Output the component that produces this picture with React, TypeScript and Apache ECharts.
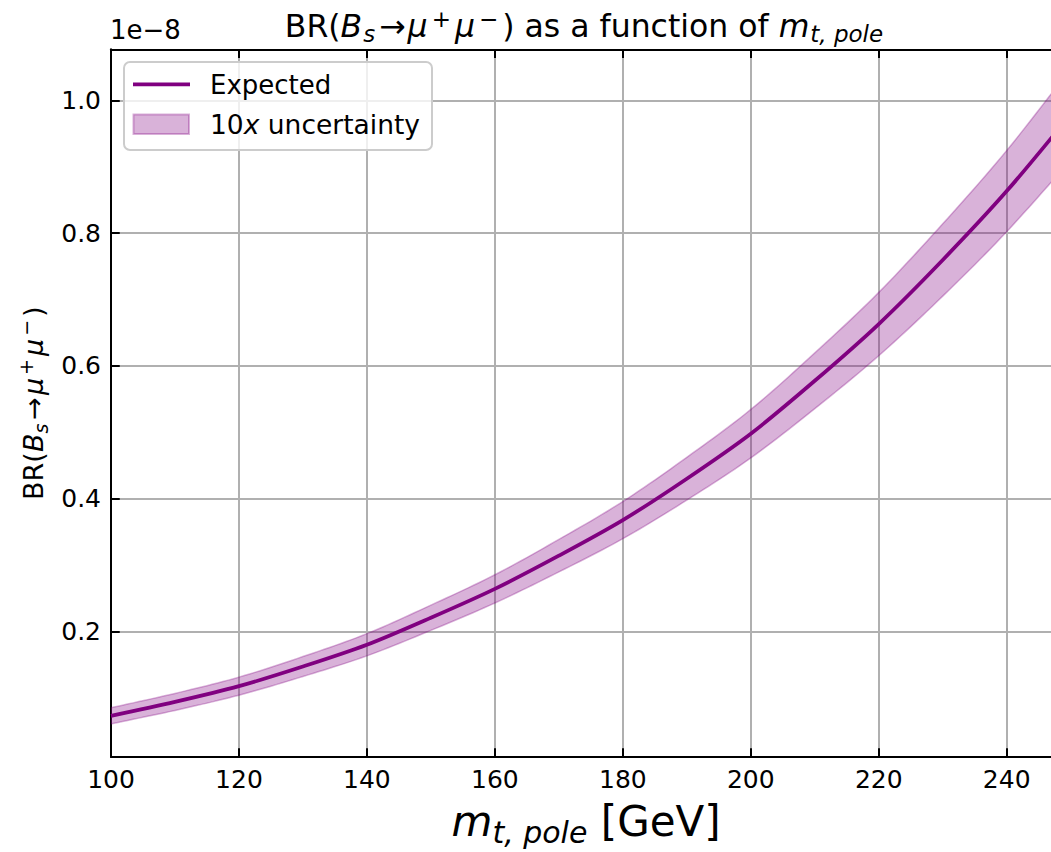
import React, { useEffect, useRef } from "react";
import * as echarts from "echarts";

// ---- data (BR in units of 1e-8) ----
const massGeV = [100, 110, 120, 130, 140, 150, 160, 170, 180, 190, 200, 210, 220, 230, 240, 250];
const brExpected = [0.0727, 0.0937, 0.1174, 0.147, 0.1798, 0.2205, 0.264, 0.314, 0.3676, 0.43, 0.4978, 0.5775, 0.663, 0.7595, 0.8633, 0.979];
const brUpper = [0.0849, 0.1065, 0.131, 0.162, 0.1965, 0.2395, 0.2853, 0.3385, 0.3956, 0.4622, 0.5343, 0.6195, 0.7107, 0.814, 0.9245, 1.048];
const brLower = [0.0605, 0.0809, 0.1038, 0.132, 0.1631, 0.2015, 0.2427, 0.2895, 0.3396, 0.3978, 0.4613, 0.5355, 0.6153, 0.705, 0.8021, 0.91];

const X_MIN = 100;
const X_MAX = 248.5;
const X_STEP = 20;
const Y_MIN = 0.0107;
const Y_MAX = 1.0769;
const Y_STEP = 0.2;

const FONT = "DejaVu Sans";
const PURPLE = "#800080";
const CHART_W = 1100;
const CHART_H = 852;
const PLOT_LEFT = 111;
const PLOT_RIGHT = 111 + (X_MAX - X_MIN) * 6.398;

// Catmull-Rom sampling in pixel space (for drawing a smooth band outline)
function smoothPts(pts: number[][], steps: number): number[][] {
  const out: number[][] = [];
  const n = pts.length;
  for (let i = 0; i < n - 1; i++) {
    const p0 = pts[Math.max(0, i - 1)];
    const p1 = pts[i];
    const p2 = pts[i + 1];
    const p3 = pts[Math.min(n - 1, i + 2)];
    for (let s = 0; s < steps; s++) {
      const t = s / steps;
      const t2 = t * t;
      const t3 = t2 * t;
      const f = (a: number, b: number, c: number, d: number) =>
        0.5 * (2 * b + (-a + c) * t + (2 * a - 5 * b + 4 * c - d) * t2 + (-a + 3 * b - 3 * c + d) * t3);
      out.push([f(p0[0], p1[0], p2[0], p3[0]), f(p0[1], p1[1], p2[1], p3[1])]);
    }
  }
  out.push(pts[n - 1]);
  return out;
}

export default function App() {
  const ref = useRef<HTMLDivElement>(null);

  useEffect(() => {
    if (!ref.current) return;
    const chart = echarts.init(ref.current, undefined, { renderer: "svg" });

    const axisLine = { show: true, onZero: false, lineStyle: { color: "#000", width: 2 } };
    const axisTick = { show: true, inside: true, length: 8.75, lineStyle: { color: "#000", width: 2 } };
    const splitLine = { show: true, lineStyle: { color: "#b0b0b0", width: 2 } };

    const bandRender = (params: any, api: any) => {
      if (params.dataIndexInside !== 0) return null;
      const len = params.dataInsideLength;
      const up: number[][] = [];
      const lo: number[][] = [];
      for (let j = 0; j < len; j++) {
        const x = api.value(0, j);
        up.push(api.coord([x, api.value(2, j)]));
        lo.push(api.coord([x, api.value(1, j)]));
      }
      const upS = smoothPts(up, 12);
      const loS = smoothPts(lo, 12).reverse();
      return {
        type: "polygon",
        shape: { points: upS.concat(loS) },
        style: {
          fill: "rgba(128,0,128,0.3)",
          stroke: "rgba(128,0,128,0.3)",
          lineWidth: 1.5,
        },
      };
    };

    const option: any = {
      animation: false,
      backgroundColor: "#fff",
      grid: {
        left: PLOT_LEFT,
        top: 49.3,
        right: CHART_W - PLOT_RIGHT,
        bottom: CHART_H - 759.3,
        containLabel: false,
      },
      xAxis: [
        {
          type: "value",
          position: "bottom",
          min: X_MIN,
          max: X_MAX,
          interval: X_STEP,
          axisLine,
          axisTick,
          splitLine,
          axisLabel: {
            show: true,
            margin: 10,
            fontSize: 25,
            color: "#000",
            fontFamily: FONT,
            showMaxLabel: false,
            showMinLabel: true,
          },
          name: "{m|m}{s|t, pole}{n| [GeV]}",
          nameLocation: "middle",
          nameGap: 38,
          nameTextStyle: {
            color: "#000",
            fontFamily: FONT,
            fontSize: 42,
            rich: {
              m: { fontSize: 42, fontStyle: "italic", fontFamily: FONT, color: "#000", lineHeight: 52 },
              s: { fontSize: 30, fontStyle: "italic", fontFamily: FONT, color: "#000", verticalAlign: "bottom" },
              n: { fontSize: 42, fontFamily: FONT, color: "#000", lineHeight: 52 },
            },
          },
        },
        {
          type: "value",
          position: "top",
          min: X_MIN,
          max: X_MAX,
          interval: X_STEP,
          axisLine,
          axisTick,
          splitLine: { show: false },
          axisLabel: { show: false },
        },
      ],
      yAxis: [
        {
          type: "value",
          position: "left",
          min: Y_MIN,
          max: Y_MAX,
          minInterval: Y_STEP,
          maxInterval: Y_STEP,
          axisLine,
          axisTick,
          splitLine,
          axisLabel: {
            show: true,
            margin: 10,
            fontSize: 25,
            color: "#000",
            fontFamily: FONT,
            showMinLabel: false,
            showMaxLabel: false,
            formatter: (v: number) => v.toFixed(1),
          },
          name: "{n|BR(}{i|B}{sub|s}{ar|→}{i|μ}{sup|+}{i|μ}{sup|−}{n|)}",
          nameLocation: "middle",
          nameRotate: 90,
          nameGap: 59,
          nameTextStyle: {
            color: "#000",
            fontFamily: FONT,
            fontSize: 27,
            rich: {
              n: { fontSize: 27, fontFamily: FONT, color: "#000", lineHeight: 34 },
              ar: { fontSize: 27, fontFamily: FONT, color: "#000", lineHeight: 34, padding: [0, 2, 0, 2] },
              i: { fontSize: 27, fontStyle: "italic", fontFamily: FONT, color: "#000", lineHeight: 34 },
              sub: { fontSize: 19, fontStyle: "italic", fontFamily: FONT, color: "#000", verticalAlign: "bottom", padding: [0, 2, 0, 0] },
              sup: { fontSize: 19, fontFamily: FONT, color: "#000", verticalAlign: "top", padding: [0, 3, 0, 3] },
            },
          },
        },
      ],
      series: [
        {
          name: "10x uncertainty",
          type: "custom",
          data: massGeV.map((m, i) => [m, brLower[i], brUpper[i]]),
          encode: { x: 0, y: [1, 2] },
          renderItem: bandRender,
          clip: true,
          silent: true,
          z: 2,
        },
        {
          name: "Expected",
          type: "line",
          data: massGeV.map((m, i) => [m, brExpected[i]]),
          smooth: 0.3,
          symbol: "none",
          clip: true,
          lineStyle: { color: PURPLE, width: 3.75 },
          z: 3,
        },
      ],
      graphic: [
        // title
        {
          type: "text",
          x: 585,
          y: 26,
          z: 100,
          style: {
            text: "{n|BR(}{i|B}{sub|s}{ar|→}{i|μ}{sup|+}{i|μ}{sup|−}{n|) as a function of }{i|m}{sub|t, pole}",
            align: "center",
            textAlign: "center",
            verticalAlign: "middle",
            textVerticalAlign: "middle",
            fill: "#000",
            rich: {
              n: { fontSize: 31.5, fontFamily: FONT, fill: "#000", color: "#000", lineHeight: 38 },
              ar: { fontSize: 31.5, fontFamily: FONT, fill: "#000", color: "#000", lineHeight: 38, padding: [0, 2, 0, 2] },
              i: { fontSize: 31.5, fontStyle: "italic", fontFamily: FONT, fill: "#000", color: "#000", lineHeight: 38 },
              sub: { fontSize: 23, fontStyle: "italic", fontFamily: FONT, fill: "#000", color: "#000", verticalAlign: "bottom", padding: [0, 2, 0, 1] },
              sup: { fontSize: 23, fontFamily: FONT, fill: "#000", color: "#000", verticalAlign: "top", padding: [0, 4, 0, 4] },
            },
          },
        },
        // offset text
        {
          type: "text",
          x: 110,
          y: 30,
          z: 100,
          style: {
            text: "1e−8",
            font: `26px ${FONT}`,
            fill: "#000",
            verticalAlign: "middle",
            textVerticalAlign: "middle",
          },
        },
        // legend frame
        {
          type: "rect",
          z: 100,
          shape: { x: 124, y: 62, width: 308, height: 88, r: 6 },
          style: { fill: "rgba(255,255,255,0.8)", stroke: "#cccccc", lineWidth: 2 },
        },
        {
          type: "line",
          z: 101,
          shape: { x1: 133, y1: 84.3, x2: 190, y2: 84.3 },
          style: { stroke: PURPLE, lineWidth: 3.75 },
        },
        {
          type: "rect",
          z: 101,
          shape: { x: 133.5, y: 114.5, width: 55.5, height: 19.5 },
          style: { fill: "rgba(128,0,128,0.3)", stroke: "rgba(128,0,128,0.3)", lineWidth: 2 },
        },
        {
          type: "text",
          x: 210,
          y: 84.5,
          z: 101,
          style: {
            text: "Expected",
            font: `26px ${FONT}`,
            fill: "#000",
            verticalAlign: "middle",
            textVerticalAlign: "middle",
          },
        },
        {
          type: "text",
          x: 210,
          y: 124.5,
          z: 101,
          style: {
            text: "{n|10}{i|x}{n| uncertainty}",
            verticalAlign: "middle",
            textVerticalAlign: "middle",
            fill: "#000",
            rich: {
              n: { fontSize: 26.5, fontFamily: FONT, fill: "#000", color: "#000" },
              i: { fontSize: 26.5, fontStyle: "italic", fontFamily: FONT, fill: "#000", color: "#000" },
            },
          },
        },
      ],
    };

    chart.setOption(option);
    return () => {
      chart.dispose();
    };
  }, []);

  return (
    <div
      style={{
        position: "fixed",
        left: 0,
        top: 0,
        width: 1051,
        height: 852,
        overflow: "hidden",
        background: "#fff",
      }}
    >
      <div ref={ref} style={{ width: CHART_W, height: CHART_H }} />
    </div>
  );
}
